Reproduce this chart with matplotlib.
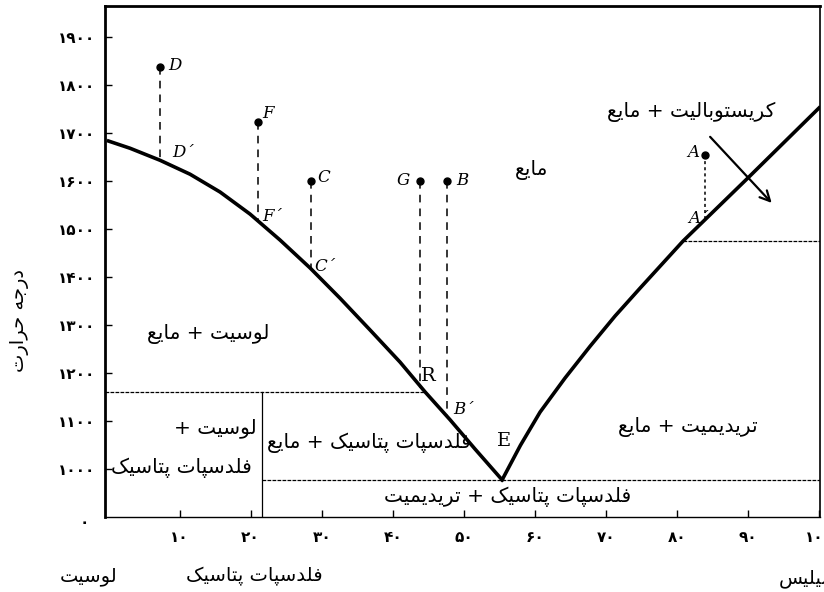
import matplotlib
matplotlib.use("Agg")
import matplotlib.pyplot as plt

# liquidus, leucite side (wt% SiO2, deg C)
left_x = [0, 3.03, 7.25, 11.47, 15.69, 19.92, 24.14, 28.36, 32.58, 36.8, 41.03, 44.55, 48.07, 51.59, 55.39]
left_t = [1683, 1668, 1643, 1614, 1577, 1531, 1477, 1419, 1356, 1290, 1223, 1161, 1103, 1042, 978]
# liquidus, silica side
right_x = [55.39, 57.97, 60.73, 64.25, 67.77, 71.29, 74.81, 80.86, 89.9, 100]
right_t = [978, 1050, 1119, 1190, 1256, 1319, 1377, 1475, 1605, 1752]

# sample points above the liquidus, and where their lines meet it
pt_names = ["D", "F", "C", "G", "B", "A"]
pt_x = [7.25, 21.1, 28.5, 43.9, 47.7, 84.0]
pt_t = [1837, 1723, 1600, 1600, 1600, 1654]
pt_end = [1643, 1516, 1417, 1170, 1109, 1521]

eutectic_t = 978
reaction_t = 1161
kfs_x = 21.6
inversion_t = 1475
inversion_x = 80.86

yticks = [1000, 1100, 1200, 1300, 1400, 1500, 1600, 1700, 1800, 1900]
xticks = [10, 20, 30, 40, 50, 60, 70, 80, 90, 100]

FA = "۰۱۲۳۴۵۶۷۸۹"


def fa_num(n):
    return "".join(FA[int(c)] for c in str(n))


# simple shaping for persian text (matplotlib has no bidi/joining)
FORMS = {
    "ا": ("\uFE8D", "\uFE8E", None, None),
    "ب": ("\uFE8F", "\uFE90", "\uFE91", "\uFE92"),
    "پ": ("\uFB56", "\uFB57", "\uFB58", "\uFB59"),
    "ت": ("\uFE95", "\uFE96", "\uFE97", "\uFE98"),
    "ج": ("\uFE9D", "\uFE9E", "\uFE9F", "\uFEA0"),
    "ح": ("\uFEA1", "\uFEA2", "\uFEA3", "\uFEA4"),
    "د": ("\uFEA9", "\uFEAA", None, None),
    "ر": ("\uFEAD", "\uFEAE", None, None),
    "س": ("\uFEB1", "\uFEB2", "\uFEB3", "\uFEB4"),
    "ع": ("\uFEC9", "\uFECA", "\uFECB", "\uFECC"),
    "ف": ("\uFED1", "\uFED2", "\uFED3", "\uFED4"),
    "ک": ("\uFB8E", "\uFB8F", "\uFB90", "\uFB91"),
    "ل": ("\uFEDD", "\uFEDE", "\uFEDF", "\uFEE0"),
    "م": ("\uFEE1", "\uFEE2", "\uFEE3", "\uFEE4"),
    "ه": ("\uFEE9", "\uFEEA", "\uFEEB", "\uFEEC"),
    "و": ("\uFEED", "\uFEEE", None, None),
    "ی": ("\uFBFC", "\uFBFD", "\uFBFE", "\uFBFF"),
}


def fa(text):
    out = []
    for i, ch in enumerate(text):
        if ch not in FORMS:
            out.append(ch)
            continue
        iso, fin, ini, med = FORMS[ch]
        prev = text[i - 1] if i > 0 else ""
        nxt = text[i + 1] if i < len(text) - 1 else ""
        jp = prev in FORMS and FORMS[prev][2] is not None
        jn = ini is not None and nxt in FORMS
        if jp and jn:
            out.append(med)
        elif jp:
            out.append(fin)
        elif jn:
            out.append(ini)
        else:
            out.append(iso)
    return "".join(reversed(out))


plt.rcParams["font.family"] = ["DejaVu Sans"]

fig = plt.figure(figsize=(8.24, 5.92), dpi=100)
ax = fig.add_axes([105 / 824, 1 - 517 / 592, 715 / 824, 511 / 592])
ax.set_xlim(-0.5, 100.13)
ax.set_ylim(900.8, 1964)

# liquidus
ax.plot(left_x, left_t, color="black", lw=2.6, solid_joinstyle="round")
ax.plot(right_x, right_t, color="black", lw=2.6, solid_joinstyle="round")

# subsolidus boundaries
ax.plot([-0.5, 44.55], [reaction_t, reaction_t], color="black", lw=0.9, ls=(0, (3, 1)))
ax.plot([kfs_x, kfs_x], [900.8, reaction_t], color="black", lw=0.9)
ax.plot([kfs_x, 100.13], [eutectic_t, eutectic_t], color="black", lw=0.9, ls=(0, (3, 1)))
ax.plot([inversion_x, 100.13], [inversion_t, inversion_t], color="black", lw=0.9, ls=(0, (3, 1)))

# sample points
for name, x, t, te in zip(pt_names, pt_x, pt_t, pt_end):
    dash = (0, (2, 2)) if name == "A" else (0, (5, 4))
    ax.plot([x, x], [t, te], color="black", lw=1.1, ls=dash)
    ax.plot(x, t, "o", color="black", ms=5)

hand = dict(fontsize=12, fontstyle="italic", family="DejaVu Serif", va="center")
ax.text(8.4, 1840, "D", ha="left", **hand)
ax.text(8.9, 1660, "D´", ha="left", **hand)
ax.text(21.7, 1740, "F", ha="left", **hand)
ax.text(21.7, 1527, "F´", ha="left", **hand)
ax.text(29.4, 1608, "C", ha="left", **hand)
ax.text(28.9, 1422, "C´", ha="left", **hand)
ax.text(42.4, 1600, "G", ha="right", **hand)
ax.text(49.0, 1600, "B", ha="left", **hand)
ax.text(48.5, 1125, "B´", ha="left", **hand)
ax.text(83.2, 1660, "A", ha="right", **hand)
ax.text(81.6, 1522, "A´", ha="left", **hand)
ax.text(44.0, 1194, "R", ha="left", va="center", fontsize=14, family="DejaVu Serif")
ax.text(55.7, 1058, "E", ha="center", va="center", fontsize=14, family="DejaVu Serif")

# arrow
ax.annotate("", xy=(93.6, 1550), xytext=(84.4, 1696),
            arrowprops=dict(arrowstyle="->", color="black", lw=1.6, mutation_scale=18))

# field labels
lab = dict(fontsize=14.5, ha="center", va="center")
ax.text(59.6, 1622, fa("مایع"), **lab)
ax.text(82.0, 1743, fa("کریستوبالیت + مایع"), **lab)
ax.text(14.0, 1282, fa("لوسیت + مایع"), **lab)
ax.text(15.0, 1086, fa("لوسیت +"), **lab)
ax.text(10.3, 1003, fa("فلدسپات پتاسیک"), **lab)
ax.text(36.7, 1055, fa("فلدسپات پتاسیک + مایع"), **lab)
ax.text(81.6, 1088, fa("تریدیمیت + مایع"), **lab)
ax.text(56.2, 942, fa("فلدسپات پتاسیک + تریدیمیت"), **lab)

# axes styling
ax.set_xticks(xticks)
ax.set_xticklabels([fa_num(v) for v in xticks], fontweight="bold", fontsize=11)
ax.set_yticks(yticks)
ax.set_yticklabels([fa_num(v) for v in yticks], fontweight="bold", fontsize=11)
ax.tick_params(direction="in", length=5, width=1)
ax.tick_params(axis="x", pad=9)
ax.tick_params(axis="y", pad=7)
ax.spines["left"].set_linewidth(2)
ax.spines["top"].set_linewidth(2)
ax.spines["right"].set_linewidth(1.2)
ax.spines["bottom"].set_linewidth(1)
ax.spines["bottom"].set_linestyle((0, (3, 1)))

fig.text(84 / 824, 1 - 522 / 592, "۰", fontsize=11, fontweight="bold", ha="center", va="center")
fig.text(20 / 824, 1 - 320 / 592, fa("درجه حرارت"), rotation=90, fontsize=14, ha="center", va="center")
fig.text(89 / 824, 1 - 576 / 592, fa("لوسیت"), fontsize=14, ha="center", va="center")
fig.text(254 / 824, 1 - 576 / 592, fa("فلدسپات پتاسیک"), fontsize=14, ha="center", va="center")
fig.text(779 / 824, 1 - 578 / 592, fa("سیلیس"), fontsize=14, ha="left", va="center")

plt.savefig("out.png", dpi=100)
plt.close()
